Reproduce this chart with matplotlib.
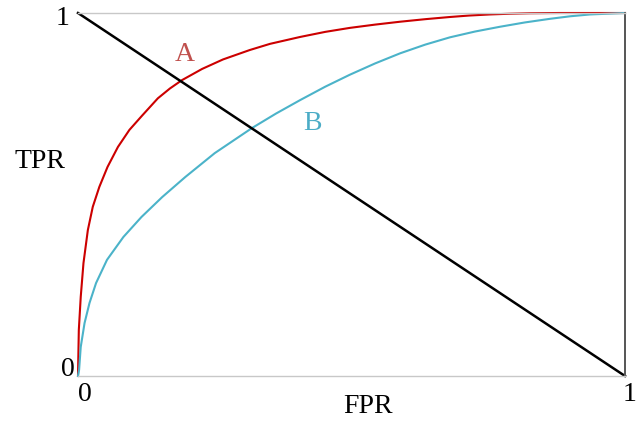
import matplotlib
matplotlib.use("Agg")
import matplotlib.pyplot as plt

# courbes ROC
fpr_a = [0.0, 0.0004, 0.0015, 0.005, 0.010, 0.018, 0.027, 0.039, 0.054, 0.073, 0.094,
         0.117, 0.146, 0.168, 0.190, 0.227, 0.265, 0.314, 0.351, 0.406, 0.452, 0.497, 0.543,
         0.589, 0.635, 0.680, 0.715, 0.753, 0.790, 0.826, 0.880, 0.949, 1.0]
tpr_a = [0.0, 0.036, 0.127, 0.218, 0.311, 0.402, 0.466, 0.521, 0.576, 0.631, 0.678,
         0.717, 0.765, 0.792, 0.815, 0.846, 0.872, 0.898, 0.915, 0.934, 0.948, 0.959, 0.968,
         0.976, 0.983, 0.989, 0.993, 0.996, 0.998, 0.9993, 1.0, 1.0, 1.0]

fpr_b = [0.0, 0.002, 0.005, 0.012, 0.021, 0.033, 0.053, 0.083, 0.116, 0.154, 0.196,
         0.250, 0.318, 0.362, 0.406, 0.452, 0.497, 0.543, 0.589, 0.635, 0.680, 0.726,
         0.771, 0.817, 0.863, 0.900, 0.936, 1.0]
tpr_b = [0.0, 0.017, 0.080, 0.146, 0.201, 0.256, 0.320, 0.383, 0.438, 0.493, 0.548,
         0.614, 0.683, 0.723, 0.760, 0.797, 0.830, 0.861, 0.889, 0.913, 0.933, 0.949,
         0.962, 0.974, 0.984, 0.991, 0.996, 1.0]

diag_x = [0, 1]
diag_y = [1, 0]

red = "#cc0000"
blue = "#4bb3c9"
font = ["Liberation Serif", "DejaVu Serif"]

fig = plt.figure(figsize=(6.43, 4.21), dpi=100)
ax = fig.add_axes([78 / 643, 45 / 421, 547 / 643, 363 / 421])

ax.plot(fpr_a, tpr_a, color=red, lw=1.5, clip_on=False, solid_joinstyle="round")
ax.plot(fpr_b, tpr_b, color=blue, lw=1.5, clip_on=False, solid_joinstyle="round")
ax.plot(diag_x, diag_y, color="black", lw=1.8, clip_on=False)

ax.set_xlim(0, 1)
ax.set_ylim(0, 1)
ax.set_xticks([])
ax.set_yticks([])
ax.spines["left"].set_visible(False)
ax.spines["top"].set_color("#c8c8c8")
ax.spines["bottom"].set_color("#c8c8c8")
ax.spines["right"].set_color("#555555")
ax.spines["top"].set_linewidth(1.0)
ax.spines["bottom"].set_linewidth(1.0)
ax.spines["right"].set_linewidth(1.4)

# graduations et titres placés à la main
kw = dict(transform=ax.transAxes, family=font, fontsize=20, ha="center", va="center", clip_on=False)
ax.text(-0.029, 0.985, "1", **kw)
ax.text(-0.018, 0.017, "0", **kw)
ax.text(0.013, -0.052, "0", **kw)
ax.text(1.009, -0.052, "1", **kw)
ax.text(-0.069, 0.59, "TPR", **kw)
ax.text(0.53, -0.085, "FPR", **kw)

ax.text(0.196, 0.885, "A", color="#c0504d", **kw)
ax.text(0.428, 0.695, "B", color="#4bacc6", **kw)

fig.savefig("out.png", dpi=100)
